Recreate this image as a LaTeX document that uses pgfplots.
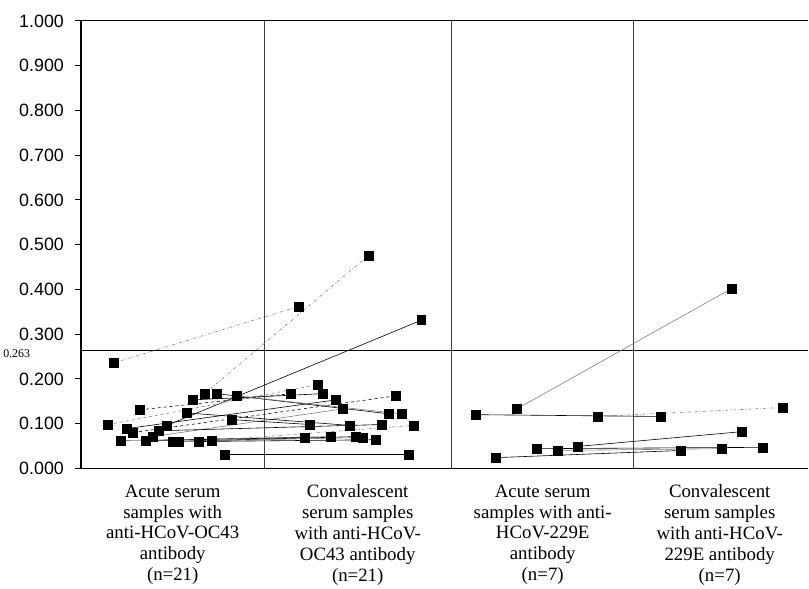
\documentclass[border=0pt]{standalone}
\usepackage{pgfplots}
\pgfplotsset{compat=1.18}
\usepackage{fontspec}
\setmainfont{Liberation Serif}
\newfontfamily\arial{Liberation Sans}

\pgfplotsset{
  pair/.style={black, line width=0.6pt, mark=square*, mark size=4.5bp,
    mark options={solid, draw=black, fill=black}},
}

\begin{document}
\begin{tikzpicture}
\begin{axis}[
  scale only axis,
  width=731bp, height=450bp,
  xmin=0, xmax=4, ymin=0, ymax=1,
  axis x line*=bottom, axis y line*=left,
  axis line style={black, line width=1.6pt},
  clip=false,
  ytick={0,0.1,0.2,0.3,0.4,0.5,0.6,0.7,0.8,0.9,1.0},
  /pgf/number format/fixed,
  /pgf/number format/fixed zerofill,
  /pgf/number format/precision=3,
  /pgf/number format/assume math mode=true,
  tick align=outside,
  major tick length=6bp,
  y tick style={black, line width=0.8pt},
  yticklabel style={font=\arial\fontsize{18}{20}\selectfont, xshift=-8bp},
  xtick={0.503,1.521,2.539,3.513},
  x tick style={draw=none},
  xticklabels={
    {Acute serum\\samples with\\anti-HCoV-OC43\\antibody\\(n=21)},
    {Convalescent\\serum samples\\with anti-HCoV-\\OC43 antibody\\(n=21)},
    {Acute serum\\samples with anti-\\HCoV-229E\\antibody\\(n=7)},
    {Convalescent\\serum samples\\with anti-HCoV-\\229E antibody\\(n=7)}},
  xticklabel style={align=center, font=\fontsize{19}{21}\selectfont, yshift=-7bp},
  extra x ticks={1.007,2.036,3.037},
  extra x tick labels={},
  extra x tick style={grid=major, major grid style={black!75, line width=0.6pt}, tick style={draw=none}},
  extra y ticks={0.263},
  extra y tick labels={0.263},
  extra y tick style={grid=major, major grid style={black, line width=0.6pt},
    tick style={draw=none},
    yticklabel style={font=\fontsize{12}{13}\selectfont, xshift=-34bp, yshift=-3bp}},
]
% acute -> convalescent, anti-HCoV-OC43
\addplot[pair, gray, dash dot] coordinates {(0.181,0.236) (1.198,0.362)};
\addplot[pair, gray, dash dot] coordinates {(0.679,0.167) (1.581,0.476)};
\addplot[pair] coordinates {(0.471,0.096) (1.871,0.331)};
\addplot[pair, gray, dashed] coordinates {(0.148,0.098) (1.302,0.187)};
\addplot[pair] coordinates {(0.252,0.089) (1.401,0.153)};
\addplot[pair, dashed] coordinates {(0.285,0.080) (1.729,0.162)};
\addplot[pair, gray] coordinates {(0.219,0.062) (1.373,0.071)};
\addplot[pair] coordinates {(0.356,0.062) (1.231,0.069)};
\addplot[pair, gray] coordinates {(0.394,0.071) (1.439,0.133)};
\addplot[pair] coordinates {(0.427,0.084) (1.653,0.098)};
\addplot[pair] coordinates {(0.503,0.060) (1.510,0.071)};
\addplot[pair, gray] coordinates {(0.536,0.060) (1.549,0.069)};
\addplot[pair] coordinates {(0.646,0.060) (1.620,0.064)};
\addplot[pair, gray, dash dot] coordinates {(0.717,0.062) (1.828,0.096)};
\addplot[pair] coordinates {(0.580,0.124) (1.477,0.096)};
\addplot[pair] coordinates {(0.613,0.153) (1.330,0.167)};
\addplot[pair] coordinates {(0.744,0.167) (1.691,0.122)};
\addplot[pair, gray] coordinates {(0.854,0.162) (1.762,0.122)};
\addplot[pair] coordinates {(0.826,0.109) (1.259,0.098)};
\addplot[pair, dashed] coordinates {(0.323,0.131) (1.155,0.167)};
\addplot[pair] coordinates {(0.788,0.031) (1.800,0.031)};
% acute -> convalescent, anti-HCoV-229E
\addplot[pair, gray] coordinates {(2.397,0.133) (3.579,0.402)};
\addplot[pair] coordinates {(2.172,0.120) (3.190,0.116)};
\addplot[pair, gray, dash dot] coordinates {(2.840,0.116) (3.858,0.136)};
\addplot[pair] coordinates {(2.282,0.024) (3.300,0.040)};
\addplot[pair] coordinates {(2.731,0.049) (3.633,0.082)};
\addplot[pair] coordinates {(2.506,0.044) (3.748,0.047)};
\addplot[pair, gray] coordinates {(2.621,0.040) (3.524,0.044)};
\draw[black, line width=1.2pt] (rel axis cs:0,1) -- (rel axis cs:1,1);
\path (rel axis cs:0,1) ++(0,21bp);
\end{axis}
\end{tikzpicture}
\end{document}
